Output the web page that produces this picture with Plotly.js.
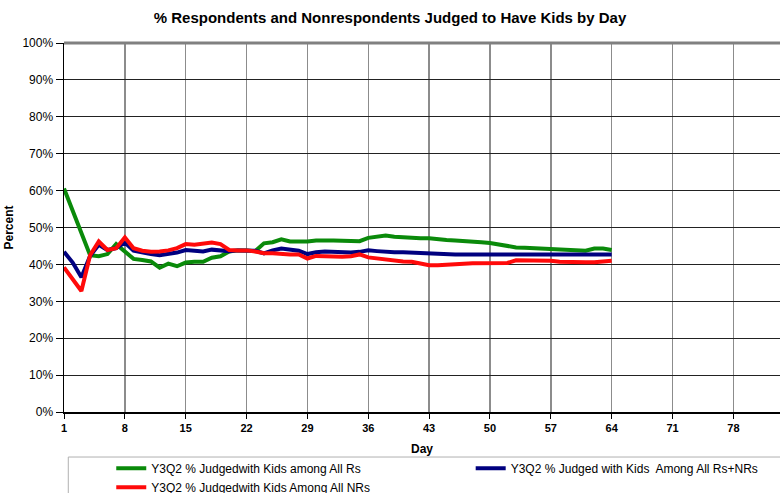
<!DOCTYPE html>
<html>
<head>
<meta charset="utf-8">
<script src="https://cdn.plot.ly/plotly-3.0.1.min.js"></script>
<style>html,body{margin:0;padding:0;background:#fff;}#chart{width:780px;height:493px;}</style>
</head>
<body>
<div id="chart"></div>
<script>
var days = [];
for (var i = 1; i <= 64; i++) days.push(i);

var seriesNames = [
  "Y3Q2 % Judgedwith Kids among All Rs",
  "Y3Q2 % Judged with Kids  Among All Rs+NRs",
  "Y3Q2 % Judgedwith Kids Among All NRs"
];

var allRs = [60.6,54.5,48.5,42.5,42.2,42.8,45.5,43.5,41.5,41.2,
  40.8,39.1,40.2,39.5,40.5,40.7,40.7,41.8,42.2,43.5,
  43.8,43.8,43.6,45.7,46.0,46.8,46.2,46.2,46.2,46.5,
  46.6,46.5,46.4,46.3,46.3,47.2,47.5,47.8,47.5,47.3,
  47.2,47.1,47.1,46.8,46.6,46.5,46.4,46.1,46.0,45.8,
  45.4,45.0,44.6,44.5,44.4,44.2,44.2,44.0,43.9,43.8,
  43.7,44.3,44.3,43.9];

var allRsNRs = [43.4,40.5,36.5,42.3,45.3,43.9,44.4,45.9,43.7,43.2,
  42.8,42.5,42.8,43.2,43.9,43.8,43.5,44.0,43.8,43.6,
  43.8,43.8,43.7,43.0,43.8,44.3,44.0,43.7,42.8,43.3,
  43.5,43.4,43.3,43.2,43.4,43.8,43.6,43.4,43.3,43.3,
  43.2,43.0,42.8,42.8,42.7,42.7,42.7,42.7,42.7,42.7,
  42.7,42.7,42.7,42.7,42.7,42.7,42.7,42.7,42.7,42.7,
  42.7,42.7,42.7,42.7];

var allNRs = [39.2,35.8,32.8,42.5,46.2,43.9,44.4,47.3,44.4,43.7,
  43.4,43.5,43.8,44.4,45.5,45.3,45.5,45.9,45.5,43.9,
  43.8,43.8,43.5,43.0,43.0,42.8,42.7,42.7,41.6,42.3,
  42.2,42.1,42.1,42.2,42.7,41.9,41.6,41.2,41.0,40.8,
  40.7,40.3,39.8,39.8,40.0,40.0,40.2,40.3,40.3,40.4,
  40.4,40.4,41.1,41.1,41.0,41.0,41.0,40.7,40.6,40.6,
  40.6,40.6,40.9,41.0];

var xTicks = [1,8,15,22,29,36,43,50,57,64,71,78];
var yTicks = [0,10,20,30,40,50,60,70,80,90,100];
var yTickText = yTicks.map(function(v){return v + "%";});

var colors = ["#0a8a0a", "#00007f", "#ff0a0a"];
var series = [allRs, allRsNRs, allNRs];
var legendOf = ["legend", "legend2", "legend"];

var traces = series.map(function(s, k){
  return {
    x: days, y: s, type: "scatter", mode: "lines", name: seriesNames[k],
    legend: legendOf[k],
    line: {color: colors[k], width: 4}
  };
});

var font = "Liberation Sans, Arial, sans-serif";
var legFont = {family: font, size: 12, color: "#000"};

var layout = {
  width: 780, height: 493,
  margin: {l: 63.5, r: 0, t: 43, b: 81, autoexpand: false},
  paper_bgcolor: "#fff", plot_bgcolor: "#fff",
  showlegend: true,
  title: {text: "% Respondents and Nonrespondents Judged to Have Kids by Day",
    font: {family: font, size: 15, color: "#000", weight: "bold"},
    x: 0.5, xanchor: "center", y: 0.963, yanchor: "middle"},
  xaxis: {
    range: [1, 83.36], tickmode: "array", tickvals: xTicks,
    ticktext: xTicks.map(String),
    showgrid: true, gridcolor: "#8c8c8c", gridwidth: 1.5,
    ticks: "outside", ticklen: 5, tickcolor: "#000",
    showline: true, linecolor: "#000", linewidth: 1.5,
    zeroline: false,
    tickfont: {family: font, size: 11, color: "#000", weight: "bold"},
    title: {text: "Day", font: {family: font, size: 12, color: "#000", weight: "bold"}, standoff: 12}
  },
  yaxis: {
    range: [0, 100], tickmode: "array", tickvals: yTicks, ticktext: yTickText,
    showgrid: true, gridcolor: "#222", gridwidth: 1,
    ticks: "outside", ticklen: 7, tickcolor: "#000",
    showline: true, linecolor: "#000", linewidth: 1.5,
    zeroline: false,
    tickfont: {family: font, size: 12, color: "#000"},
    title: {text: "Percent", font: {family: font, size: 12, color: "#000", weight: "bold"}, standoff: 6}
  },
  legend: {
    orientation: "v", x: 0.066, xanchor: "left", y: -0.113, yanchor: "top",
    bgcolor: "rgba(0,0,0,0)", borderwidth: 0, font: legFont,
    tracegroupgap: 0, itemwidth: 30
  },
  legend2: {
    orientation: "v", x: 0.568, xanchor: "left", y: -0.113, yanchor: "top",
    bgcolor: "rgba(0,0,0,0)", borderwidth: 0, font: legFont,
    tracegroupgap: 0, itemwidth: 30
  },
  shapes: [
    {type: "line", xref: "paper", yref: "paper", x0: 0, x1: 1, y0: 1, y1: 1,
     line: {color: "#808080", width: 3}},
    {type: "rect", xref: "paper", yref: "paper", x0: 0.006, x1: 1.01, y0: -0.122, y1: -0.4,
     line: {color: "#b0b0b0", width: 1}}
  ]
};

Plotly.newPlot("chart", traces, layout, {displayModeBar: false, staticPlot: true});
</script>
</body>
</html>
